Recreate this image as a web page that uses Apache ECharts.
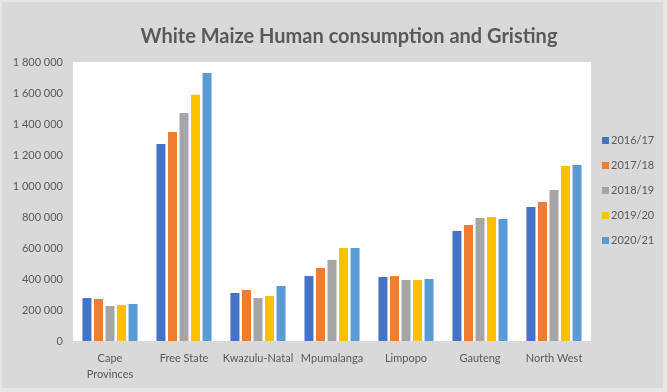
<!DOCTYPE html>
<html><head><meta charset="utf-8">
<script src="https://cdn.jsdelivr.net/npm/echarts@6/dist/echarts.min.js"></script>
<style>
html,body{margin:0;padding:0;background:#e6e6e6;}
#wrap{position:absolute;left:2px;top:2px;width:661px;height:386px;background:#d9d9d9;}
#c{width:667px;height:392px;position:absolute;left:-2px;top:-2px;}
</style></head>
<body><div id="wrap"><div id="c"></div></div>
<script>
const categories = ['Cape\nProvinces','Free State','Kwazulu-Natal','Mpumalanga','Limpopo','Gauteng','North West'];
const seriesNames = ['2016/17','2017/18','2018/19','2019/20','2020/21'];
const s2016 = [277000, 1271000, 310000, 419000, 413000, 710000, 865000];
const s2017 = [271000, 1348000, 329000, 471000, 419000, 748000, 897000];
const s2018 = [226000, 1471000, 277000, 523000, 394000, 794000, 974000];
const s2019 = [232000, 1589000, 290000, 600000, 394000, 800000, 1129000];
const s2020 = [239000, 1729000, 355000, 600000, 400000, 787000, 1135000];
const colors = ['#4472c4','#ed7d31','#a5a5a5','#ffc000','#5b9bd5'];
const yMin = 0, yMax = 1800000, yStep = 200000;

const chart = echarts.init(document.getElementById('c'));
const all = [s2016, s2017, s2018, s2019, s2020];
const fmt = v => String(v).replace(/\B(?=(\d{3})+(?!\d))/g, ' ');
chart.setOption({
  backgroundColor: 'transparent',
  animation: false,
  color: colors,
  title: {
    text: 'White Maize Human consumption and Gristing',
    left: 344, top: 22, textAlign: 'center',
    textStyle: {fontFamily: 'Lato', fontWeight: 'bold', fontSize: 20, color: '#595959'}
  },
  legend: {
    orient: 'vertical', left: 597, top: 130,
    itemWidth: 7, itemHeight: 7, itemGap: 14,
    icon: 'rect',
    textStyle: {fontFamily: 'Lato', fontSize: 11, color: '#595959', padding: [0,0,0,-3]},
    data: seriesNames
  },
  grid: {left: 73, top: 62, width: 518, height: 279, show: true, backgroundColor: '#ffffff', borderWidth: 0},
  xAxis: {
    type: 'category', data: categories,
    axisLine: {show: false}, axisTick: {show: false},
    axisLabel: {fontFamily: 'Lato', fontSize: 11, color: '#595959', margin: 9, lineHeight: 16, interval: 0}
  },
  yAxis: {
    type: 'value', min: yMin, max: yMax, interval: yStep,
    splitLine: {show: false}, axisLine: {show: false}, axisTick: {show: false},
    axisLabel: {fontFamily: 'Lato', fontSize: 11, color: '#595959', margin: 10, formatter: fmt}
  },
  series: seriesNames.map((n, i) => ({
    name: n, type: 'bar', data: all[i], barWidth: 9, barGap: '28%',
    itemStyle: {color: colors[i]}
  }))
});
</script></body></html>
